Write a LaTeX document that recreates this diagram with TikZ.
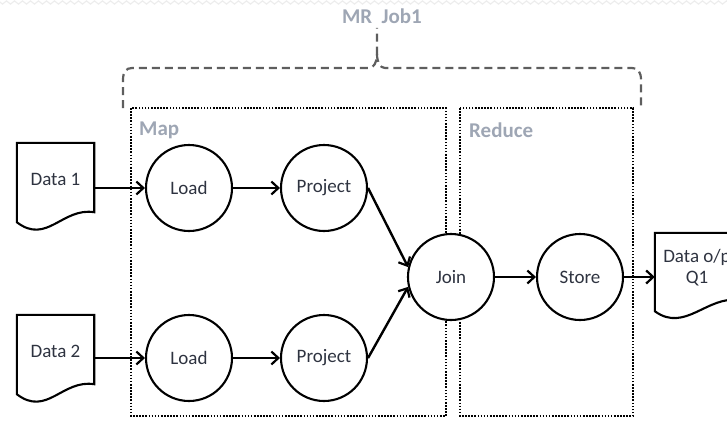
\documentclass[tikz,border=0pt]{standalone}
\usepackage{fontspec}
\setmainfont{Carlito}
\usetikzlibrary{arrows.meta,calc,decorations.pathmorphing}

\definecolor{nodetext}{HTML}{2E3340}
\definecolor{grouptext}{HTML}{9EA6B4}
\definecolor{bracegray}{HTML}{5E5E5E}

\tikzset{
  op/.style={circle, draw=black, line width=2.1pt, fill=white, minimum size=86pt,
    inner sep=0pt, text=nodetext, font=\fontsize{19}{22}\selectfont},
  docbox/.style={minimum width=#1, minimum height=72pt, inner sep=0pt,
    text=nodetext, font=\fontsize{19}{21}\selectfont, align=center},
  docline/.style={draw=black, line width=2.1pt, line join=miter},
  flow/.style={line width=2.4pt, -{Straight Barb[length=7pt,width=13pt,line width=2.2pt]}},
  groupbox/.style={draw=black, line width=1.7pt, dash pattern=on 1.6pt off 1.5pt},
  grouplabel/.style={text=grouptext, font=\bfseries\fontsize{21}{24}\selectfont, inner sep=0pt},
  bracket/.style={draw=bracegray, line width=2.2pt, dash pattern=on 8pt off 5pt, line cap=butt}
}

% outline of a document symbol with a wavy lower edge, below node #1
\newcommand\docoutline[3]{%
  \draw[docline] (#1.north west) -- (#1.north east)
    -- ($(#1.south east)+(0,#2)$)
    .. controls ($(#1.south east)+(-32,-8)$) and ($(#1.south west)+(30,30)$)
    .. ($(#1.south west)+(0,#3)$) -- cycle;}

\begin{document}
\begin{tikzpicture}[x=1pt, y=-1pt]
\useasboundingbox (0,0) rectangle (727,420);
\clip (0,0) rectangle (727,420);

% faint scalloped top edge
\draw[gray!14, line width=1.2pt, decorate,
  decoration={snake, amplitude=1.6pt, segment length=8pt}] (-4,2.5) -- (731,2.5);

% stage boxes
\draw[groupbox] (131,108) rectangle (446,416);
\draw[groupbox] (460,108) rectangle (633,416);
\node[grouplabel, anchor=west] (maplbl) at (139,130) {Map};
\node[grouplabel, anchor=west] (redlbl) at (469,130) {Reduce};

% brace spanning both stages
\node[grouplabel] (job) at (382,16) {MR\hspace{0.45em}Job1};
\draw[bracket] (123,108) -- (123,80) .. controls (123,72) and (126,68) .. (132,68)
  -- (369,68) .. controls (374,68) and (377,62) .. (377,54) -- (377,28);
\draw[bracket] (377,54) .. controls (377,62) and (380,68) .. (385,68)
  -- (632,68) .. controls (638,68) and (641,72) .. (641,80) -- (641,108);

% inputs and output
\node[docbox=77pt] (d1) at (55.5,179) {Data 1};
\node[docbox=77pt] (d2) at (55.5,351) {Data 2};
\node[docbox=84pt, minimum height=70pt] (dout) at (697,268) {Data o/p\\Q1};
\docoutline{d1}{-3}{7}
\docoutline{d2}{-3}{7}
\docoutline{dout}{-3}{8}

% operators
\node[op] (load1) at (189,188) {Load};
\node[op] (proj1) at (324,188) {Project};
\node[op] (load2) at (189,358) {Load};
\node[op] (proj2) at (324,358) {Project};
\node[op] (join)  at (451,277) {Join};
\node[op] (store) at (580,277) {Store};

% data flow
\draw[flow] (load1.west -| d1.east) -- (load1.west);
\draw[flow] (load2.west -| d2.east) -- (load2.west);
\draw[flow] (load1) -- (proj1);
\draw[flow] (load2) -- (proj2);
\draw[flow] (proj1.east) -- (join.167);
\draw[flow] (proj2.east) -- (join.193);
\draw[flow] (join) -- (store);
\draw[flow] (store.east) -- (store.east -| dout.west);
\end{tikzpicture}
\end{document}
